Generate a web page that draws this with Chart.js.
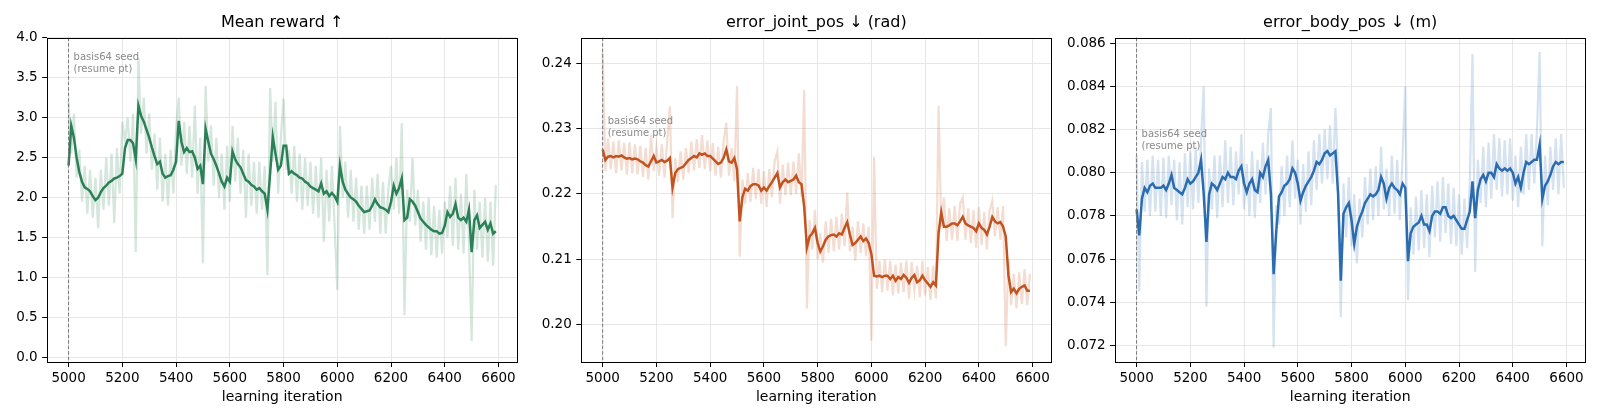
<!DOCTYPE html>
<html>
<head>
<meta charset="utf-8">
<script src="https://cdn.jsdelivr.net/npm/chart.js@4.4.1/dist/chart.umd.min.js"></script>
<style>
    body { margin: 0; background: #fff; }
    #wrap { position: relative; width: 1600px; height: 420px; overflow: hidden; }
    .panel { position: absolute; top: 0; height: 420px; }
</style>
</head>
<body>
<div id="wrap">
    <div class="panel" style="left:0px;width:534px"><canvas id="reward_chart"></canvas></div>
    <div class="panel" style="left:524px;width:544px"><canvas id="joint_chart"></canvas></div>
    <div class="panel" style="left:1058px;width:542px"><canvas id="body_chart"></canvas></div>
</div>
<script>
// learning iterations, one sample every 10 iterations
const iterations = [];
for (let it = 5000; it <= 6590; it += 10) iterations.push(it);

const reward_raw = [
    3.20, 2.55, 3.05, 2.25, 2.60, 1.95, 2.40, 1.80, 2.35, 1.75,
    2.25, 1.62, 2.35, 1.85, 2.50, 1.90, 2.55, 1.68, 2.62, 2.05,
    2.95, 2.70, 3.00, 2.45, 3.05, 1.32, 3.75, 2.80, 3.25, 2.55,
    3.05, 2.35, 2.80, 2.10, 2.75, 1.95, 2.55, 1.90, 2.60, 2.05,
    2.85, 3.25, 2.40, 2.95, 2.30, 2.90, 2.25, 3.15, 2.05, 2.75,
    1.18, 3.40, 2.45, 2.90, 2.15, 2.75, 2.00, 2.55, 1.85, 2.65,
    1.95, 2.90, 2.20, 2.75, 2.05, 2.60, 1.75, 2.55, 1.90, 2.45,
    1.80, 2.45, 1.85, 2.40, 1.03, 3.37, 2.45, 3.20, 2.05, 2.75,
    3.24, 2.35, 2.60, 2.05, 2.65, 1.95, 2.55, 1.85, 2.50, 1.90,
    2.45, 1.80, 2.40, 1.75, 2.50, 1.45, 2.35, 1.70, 2.40, 1.65,
    0.85, 2.90, 2.00, 2.45, 1.75, 2.35, 1.70, 2.25, 1.60, 2.15,
    1.55, 2.15, 1.60, 2.25, 1.70, 2.30, 1.55, 2.20, 1.55, 2.10,
    2.40, 1.85, 2.50, 1.80, 2.93, 0.53, 2.10, 1.70, 2.50, 1.65,
    2.10, 1.45, 1.95, 1.35, 2.00, 1.28, 1.90, 1.25, 1.85, 1.30,
    1.95, 1.50, 2.15, 1.40, 2.25, 1.35, 2.05, 1.30, 2.30, 1.45,
    0.21, 2.10, 1.35, 1.95, 1.25, 2.00, 1.20, 1.95, 1.15, 2.16
];
const reward_smooth = [
    2.40, 2.90, 2.75, 2.50, 2.32, 2.20, 2.13, 2.11, 2.08, 2.02,
    1.97, 2.00, 2.07, 2.12, 2.15, 2.19, 2.21, 2.24, 2.25, 2.27,
    2.30, 2.62, 2.72, 2.72, 2.68, 2.48, 3.15, 3.02, 2.95, 2.85,
    2.75, 2.63, 2.52, 2.42, 2.45, 2.30, 2.25, 2.27, 2.28, 2.35,
    2.45, 2.96, 2.70, 2.57, 2.62, 2.57, 2.58, 2.50, 2.36, 2.40,
    2.17, 2.86, 2.70, 2.55, 2.48, 2.40, 2.30, 2.20, 2.14, 2.25,
    2.20, 2.58, 2.48, 2.42, 2.38, 2.30, 2.22, 2.20, 2.16, 2.14,
    2.10, 2.12, 2.08, 2.05, 1.85, 2.30, 2.76, 2.55, 2.35, 2.40,
    2.65, 2.65, 2.30, 2.33, 2.30, 2.28, 2.25, 2.24, 2.20, 2.18,
    2.14, 2.12, 2.10, 2.08, 2.18, 2.05, 2.08, 2.02, 2.06, 2.02,
    1.95, 2.40, 2.20, 2.10, 2.05, 2.00, 1.98, 1.95, 1.90, 1.86,
    1.82, 1.83, 1.84, 1.90, 1.98, 1.92, 1.88, 1.87, 1.85, 1.82,
    1.95, 2.15, 2.05, 2.12, 2.24, 1.72, 1.75, 1.98, 1.95, 1.90,
    1.82, 1.74, 1.70, 1.66, 1.63, 1.60, 1.58, 1.58, 1.55, 1.56,
    1.65, 1.82, 1.76, 1.80, 1.92, 1.75, 1.72, 1.75, 1.70, 1.85,
    1.32, 1.72, 1.78, 1.62, 1.66, 1.70, 1.60, 1.68, 1.55, 1.58
];

const joint_raw = [
    0.2416, 0.2235, 0.2285, 0.2238, 0.2280, 0.2232, 0.2282, 0.2236, 0.2278, 0.2230,
    0.2279, 0.2232, 0.2276, 0.2230, 0.2274, 0.2226, 0.2270, 0.2222, 0.2290, 0.2235,
    0.2272, 0.2228, 0.2276, 0.2225, 0.2280, 0.2334, 0.2163, 0.2255, 0.2218, 0.2265,
    0.2222, 0.2270, 0.2232, 0.2280, 0.2236, 0.2284, 0.2240, 0.2290, 0.2238, 0.2282,
    0.2235, 0.2278, 0.2228, 0.2272, 0.2225, 0.2280, 0.2309, 0.2228, 0.2270, 0.2220,
    0.2365, 0.2104, 0.2222, 0.2185, 0.2232, 0.2188, 0.2240, 0.2192, 0.2238, 0.2185,
    0.2235, 0.2180, 0.2238, 0.2195, 0.2250, 0.2265, 0.2185, 0.2245, 0.2198, 0.2248,
    0.2198, 0.2250, 0.2200, 0.2262, 0.2195, 0.2359, 0.2025, 0.2160, 0.2115, 0.2175,
    0.2100, 0.2140, 0.2095, 0.2158, 0.2110, 0.2162, 0.2112, 0.2165, 0.2115, 0.2170,
    0.2120, 0.2202, 0.2112, 0.2150, 0.2098, 0.2158, 0.2110, 0.2155, 0.2105, 0.2150,
    0.1976, 0.2257, 0.2055, 0.2098, 0.2050, 0.2100, 0.2052, 0.2098, 0.2045, 0.2092,
    0.2048, 0.2095, 0.2050, 0.2098, 0.2040, 0.2096, 0.2052, 0.2090, 0.2042, 0.2098,
    0.2045, 0.2088, 0.2038, 0.2090, 0.2040, 0.2335, 0.2150, 0.2195, 0.2128, 0.2178,
    0.2130, 0.2182, 0.2128, 0.2185, 0.2195, 0.2130, 0.2178, 0.2125, 0.2175, 0.2118,
    0.2180, 0.2122, 0.2172, 0.2115, 0.2175, 0.2190, 0.2135, 0.2180, 0.2130, 0.2182,
    0.1967, 0.2100, 0.2030, 0.2078, 0.2025, 0.2080, 0.2032, 0.2085, 0.2030, 0.2078
];
const joint_smooth = [
    0.2268, 0.2252, 0.2257, 0.2258, 0.2256, 0.2258, 0.2257, 0.2259, 0.2256, 0.2254,
    0.2255, 0.2253, 0.2254, 0.2253, 0.2250, 0.2248, 0.2244, 0.2242, 0.2250, 0.2258,
    0.2248, 0.2250, 0.2252, 0.2249, 0.2251, 0.2255, 0.2210, 0.2232, 0.2238, 0.2240,
    0.2242, 0.2247, 0.2252, 0.2255, 0.2258, 0.2256, 0.2262, 0.2260, 0.2262, 0.2258,
    0.2258, 0.2254, 0.2250, 0.2246, 0.2248, 0.2255, 0.2268, 0.2250, 0.2248, 0.2255,
    0.2238, 0.2158, 0.2195, 0.2208, 0.2205, 0.2212, 0.2215, 0.2215, 0.2213, 0.2205,
    0.2210, 0.2205, 0.2212, 0.2218, 0.2225, 0.2232, 0.2210, 0.2218, 0.2222, 0.2218,
    0.2220, 0.2222, 0.2228, 0.2218, 0.2215, 0.2180, 0.2118, 0.2135, 0.2140, 0.2148,
    0.2125, 0.2112, 0.2120, 0.2130, 0.2135, 0.2137, 0.2138, 0.2135, 0.2140, 0.2138,
    0.2148, 0.2157, 0.2138, 0.2122, 0.2125, 0.2130, 0.2135, 0.2128, 0.2132, 0.2125,
    0.2108, 0.2075, 0.2074, 0.2075, 0.2073, 0.2075, 0.2075, 0.2070, 0.2075, 0.2067,
    0.2073, 0.2070, 0.2076, 0.2072, 0.2064, 0.2072, 0.2076, 0.2065, 0.2068, 0.2075,
    0.2068, 0.2063, 0.2058, 0.2065, 0.2060, 0.2140, 0.2172, 0.2150, 0.2150, 0.2152,
    0.2155, 0.2155, 0.2152, 0.2158, 0.2165, 0.2155, 0.2152, 0.2150, 0.2148, 0.2143,
    0.2155, 0.2148, 0.2145, 0.2138, 0.2150, 0.2165, 0.2158, 0.2155, 0.2157, 0.2150,
    0.2135, 0.2075, 0.2050, 0.2055, 0.2048, 0.2055, 0.2058, 0.2060, 0.2052, 0.2052
];

const body_raw = [
    0.0808, 0.0745, 0.0805, 0.0782, 0.0806, 0.0780, 0.0808, 0.0782, 0.0806, 0.0780,
    0.0807, 0.0779, 0.0808, 0.0785, 0.0806, 0.0778, 0.0805, 0.0776, 0.0809, 0.0784,
    0.0810, 0.0783, 0.0812, 0.0786, 0.0815, 0.0840, 0.0738, 0.0802, 0.0783, 0.0808,
    0.0779, 0.0808, 0.0784, 0.0815, 0.0786, 0.0812, 0.0785, 0.0810, 0.0790, 0.0818,
    0.0783, 0.0804, 0.0780, 0.0810, 0.0779, 0.0806, 0.0786, 0.0814, 0.0790, 0.0818,
    0.0830, 0.0719, 0.0785, 0.0776, 0.0803, 0.0780, 0.0808, 0.0784, 0.0815, 0.0788,
    0.0806, 0.0776, 0.0804, 0.0782, 0.0810, 0.0785, 0.0815, 0.0792, 0.0818, 0.0795,
    0.0820, 0.0797, 0.0822, 0.0795, 0.0830, 0.0801, 0.0733, 0.0795, 0.0770, 0.0798,
    0.0766, 0.0790, 0.0758, 0.0788, 0.0770, 0.0798, 0.0776, 0.0802, 0.0778, 0.0803,
    0.0780, 0.0812, 0.0783, 0.0802, 0.0780, 0.0808, 0.0781, 0.0806, 0.0778, 0.0808,
    0.0840, 0.0741, 0.0784, 0.0762, 0.0789, 0.0764, 0.0792, 0.0765, 0.0790, 0.0761,
    0.0794, 0.0770, 0.0796, 0.0768, 0.0798, 0.0772, 0.0795, 0.0767, 0.0793, 0.0766,
    0.0790, 0.0762, 0.0788, 0.0765, 0.0795, 0.0855, 0.0754, 0.0806, 0.0786, 0.0812,
    0.0784, 0.0814, 0.0788, 0.0818, 0.0792, 0.0816, 0.0789, 0.0815, 0.0790, 0.0816,
    0.0787, 0.0808, 0.0784, 0.0812, 0.0790, 0.0818, 0.0792, 0.0818, 0.0795, 0.0820,
    0.0856, 0.0766, 0.0808, 0.0785, 0.0812, 0.0792, 0.0816, 0.0790, 0.0818, 0.0793
];
const body_smooth = [
    0.0783, 0.0771, 0.0788, 0.0793, 0.0791, 0.0794, 0.0795, 0.0793, 0.0793, 0.0793,
    0.0794, 0.0792, 0.0795, 0.0799, 0.0793, 0.0792, 0.0791, 0.0790, 0.0793, 0.0797,
    0.0795, 0.0796, 0.0798, 0.0800, 0.0806, 0.0790, 0.0768, 0.0790, 0.0795, 0.0794,
    0.0792, 0.0795, 0.0798, 0.0797, 0.0800, 0.0798, 0.0798, 0.0797, 0.0801, 0.0803,
    0.0795, 0.0791, 0.0795, 0.0797, 0.0792, 0.0791, 0.0800, 0.0798, 0.0803, 0.0806,
    0.0790, 0.0753, 0.0773, 0.0789, 0.0791, 0.0794, 0.0795, 0.0797, 0.0802, 0.0800,
    0.0795, 0.0787, 0.0791, 0.0794, 0.0796, 0.0798, 0.0801, 0.0805, 0.0804, 0.0806,
    0.0809, 0.0810, 0.0808, 0.0809, 0.0810, 0.0790, 0.0750, 0.0781, 0.0784, 0.0786,
    0.0778, 0.0767, 0.0775, 0.0779, 0.0782, 0.0786, 0.0788, 0.0790, 0.0789, 0.0790,
    0.0792, 0.0798, 0.0795, 0.0788, 0.0793, 0.0795, 0.0793, 0.0792, 0.0790, 0.0795,
    0.0793, 0.0759, 0.0772, 0.0775, 0.0776, 0.0777, 0.0780, 0.0776, 0.0776, 0.0773,
    0.0780, 0.0782, 0.0782, 0.0781, 0.0784, 0.0784, 0.0780, 0.0779, 0.0780, 0.0778,
    0.0776, 0.0774, 0.0774, 0.0778, 0.0782, 0.0796, 0.0779, 0.0792, 0.0797, 0.0799,
    0.0796, 0.0800, 0.0800, 0.0798, 0.0804, 0.0802, 0.0801, 0.0802, 0.0801, 0.0802,
    0.0800, 0.0795, 0.0798, 0.0793, 0.0800, 0.0805, 0.0804, 0.0805, 0.0806, 0.0806,
    0.0813, 0.0788, 0.0794, 0.0796, 0.0799, 0.0803, 0.0805, 0.0804, 0.0805, 0.0805
];

const x_ticks = [5000, 5200, 5400, 5600, 5800, 6000, 6200, 6400, 6600];
const reward_ticks = [0.0, 0.5, 1.0, 1.5, 2.0, 2.5, 3.0, 3.5, 4.0];
const joint_ticks = [0.20, 0.21, 0.22, 0.23, 0.24];
const body_ticks = [0.072, 0.074, 0.076, 0.078, 0.080, 0.082, 0.084, 0.086];

const seed_iter = 5000;
const seed_label = ["basis64 seed", "(resume pt)"];

const FONT = "'DejaVu Sans', sans-serif";

// box around the axes, dashed seed line and its note
const overlay_plugin = {
    id: "overlay",
    afterDatasetsDraw(chart, args, opts) {
        const ctx = chart.ctx;
        const x = chart.scales.x.getPixelForValue(seed_iter);
        const area = chart.chartArea;
        ctx.save();
        ctx.strokeStyle = "#777777";
        ctx.lineWidth = 1;
        ctx.setLineDash([3.5, 2]);
        ctx.beginPath();
        ctx.moveTo(x, area.top);
        ctx.lineTo(x, area.bottom);
        ctx.stroke();
        ctx.setLineDash([]);
        ctx.fillStyle = "#8a8a8a";
        ctx.font = "10px " + FONT;
        ctx.textAlign = "left";
        ctx.textBaseline = "middle";
        let y = chart.scales.y.getPixelForValue(opts.note_y);
        ctx.fillText(seed_label[0], x + 5, y);
        ctx.fillText(seed_label[1], x + 5, y + 12);
        ctx.restore();
    },
    afterDraw(chart) {
        const ctx = chart.ctx;
        const area = chart.chartArea;
        ctx.save();
        ctx.strokeStyle = "#000";
        ctx.lineWidth = 1;
        ctx.strokeRect(Math.round(area.left) + 0.5, Math.round(area.top) + 0.5,
            Math.round(area.right - area.left), Math.round(area.bottom - area.top));
        ctx.restore();
    }
};

function make_points(values) {
    return values.map((v, i) => ({ x: iterations[i], y: v }));
}

function create_chart(id, cfg) {
    return new Chart(document.getElementById(id), {
        type: "line",
        data: {
            datasets: [
                {
                    label: "smoothed",
                    data: make_points(cfg.smooth),
                    borderColor: cfg.color,
                    borderWidth: 2.5,
                    pointRadius: 0,
                    order: 0,
                },
                {
                    label: "raw",
                    data: make_points(cfg.raw),
                    borderColor: cfg.light,
                    borderWidth: 2.2,
                    pointRadius: 0,
                    order: 1,
                }
            ]
        },
        options: {
            animation: false,
            responsive: true,
            maintainAspectRatio: false,
            layout: { padding: { left: 0, right: cfg.pad_right, top: 0, bottom: 0 } },
            plugins: {
                legend: { display: false },
                tooltip: { enabled: false },
                title: {
                    display: true,
                    fullSize: false,
                    text: cfg.title,
                    color: "#000",
                    font: { family: FONT, size: 16, weight: "normal", lineHeight: 1.2 },
                    padding: { top: 13.5, bottom: 5 }
                },
                overlay: { note_y: cfg.note_y }
            },
            scales: {
                x: {
                    type: "linear",
                    min: 4920.5,
                    max: 6669.5,
                    afterBuildTicks: (scale) => { scale.ticks = x_ticks.map((v) => ({ value: v })); },
                    afterFit: (scale) => { scale.height = 58; },
                    grid: { color: "#e6e6e6", tickColor: "#000", tickLength: 5 },
                    border: { display: false },
                    ticks: {
                        color: "#000",
                        padding: 3,
                        maxRotation: 0,
                        font: { family: FONT, size: 13.5 },
                        callback: (v) => String(v)
                    },
                    title: {
                        display: true,
                        text: "learning iteration",
                        color: "#000",
                        font: { family: FONT, size: 14 },
                        padding: { top: 0, bottom: 14.5 }
                    }
                },
                y: {
                    type: "linear",
                    min: cfg.y_min,
                    max: cfg.y_max,
                    afterBuildTicks: (scale) => { scale.ticks = cfg.ticks.map((v) => ({ value: v })); },
                    afterFit: (scale) => { scale.width = cfg.y_width; },
                    grid: { color: "#e6e6e6", tickColor: "#000", tickLength: 5 },
                    border: { display: false },
                    ticks: {
                        color: "#000",
                        padding: 4.5,
                        font: { family: FONT, size: 13.5 },
                        callback: (v) => Number(v).toFixed(cfg.digits)
                    }
                }
            }
        },
        plugins: [overlay_plugin]
    });
}

var rewardChart = create_chart("reward_chart", {
    title: "Mean reward \u2191",
    raw: reward_raw, smooth: reward_smooth, ticks: reward_ticks,
    y_min: -0.054, y_max: 4.0, digits: 1, note_y: 3.751,
    color: "#2b8057", light: "rgba(43,128,87,0.2)", y_width: 47.2, pad_right: 16.8
});
var jointChart = create_chart("joint_chart", {
    title: "error_joint_pos \u2193 (rad)",
    raw: joint_raw, smooth: joint_smooth, ticks: joint_ticks,
    y_min: 0.1943, y_max: 0.2439, digits: 2, note_y: 0.23116,
    color: "#c2531f", light: "rgba(194,83,31,0.2)", y_width: 57.3, pad_right: 16.7
});
var bodyChart = create_chart("body_chart", {
    title: "error_body_pos \u2193 (m)",
    raw: body_raw, smooth: body_smooth, ticks: body_ticks,
    y_min: 0.07123, y_max: 0.08626, digits: 3, note_y: 0.08178,
    color: "#2b6cb0", light: "rgba(43,108,176,0.2)", y_width: 57.2, pad_right: 14.8
});
</script>
</body>
</html>
